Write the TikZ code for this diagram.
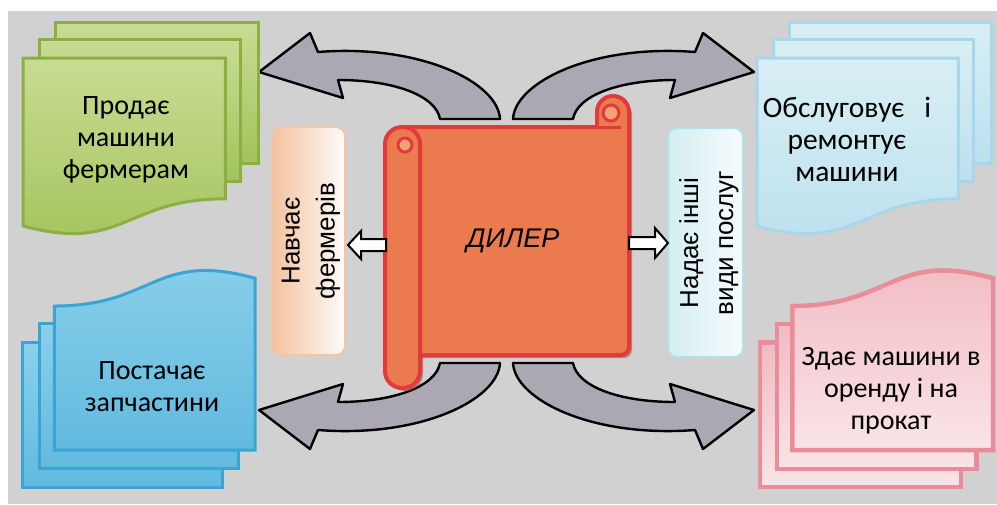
\documentclass[tikz,border=0pt]{standalone}
\usepackage{fontspec}
\setmainfont{Carlito}
\newfontfamily\arialf{Liberation Sans}

\definecolor{bggray}{HTML}{D1D1D1}
\definecolor{arrowgray}{HTML}{ABA7B3}
\definecolor{greenedge}{HTML}{8CAF42}
\definecolor{greentop}{HTML}{C8DC92}
\definecolor{greenbot}{HTML}{A3C35C}
\definecolor{blueedge}{HTML}{3AA4D4}
\definecolor{bluetop}{HTML}{8AD0EA}
\definecolor{bluebot}{HTML}{62BADF}
\definecolor{cyanedge}{HTML}{A8D6EA}
\definecolor{cyantop}{HTML}{D8EFF4}
\definecolor{cyanbot}{HTML}{BCE0EE}
\definecolor{pinkedge}{HTML}{E98D99}
\definecolor{pinktop}{HTML}{F2BAC2}
\definecolor{pinkbot}{HTML}{F9E4E7}
\definecolor{scrollfill}{HTML}{EB7B4F}
\definecolor{scrolledge}{HTML}{E03A3C}
\definecolor{scrollshadow}{HTML}{A8484A}
\definecolor{curlfill}{HTML}{F2A274}
\definecolor{peach}{HTML}{F3C29E}
\definecolor{peachedge}{HTML}{F1C6A8}
\definecolor{paleblue}{HTML}{D4EEF2}
\definecolor{paleblueedge}{HTML}{B4E0EA}

% one PowerPoint-style stack of three sheets in the unit square (y downwards)
\newcommand\sheetstack[1]{%
  \path[#1] (0.138,0) rectangle (1,0.666);
  \path[#1] (0.071,0.084) rectangle (0.926,0.752);
  \path[#1] (0,0.170) -- (0.861,0.170) -- (0.861,0.834)
    .. controls (0.430,0.834) and (0.430,1.090) .. (0,0.962) -- cycle;
}

\tikzset{
  bentarrow/.style={insert path={(259,72) -- (310,33) -- (318,52)
      .. controls (420,44) and (498,82) .. (500,119) -- (440,119)
      .. controls (436,96) and (395,80) .. (338,80) -- (343,98) -- cycle}},
  arrowshape/.style={draw=black, line width=2.4pt, line join=round, fill=arrowgray},
  greensheet/.style={draw=greenedge, line width=3pt, top color=greentop, bottom color=greenbot},
  bluesheet/.style={draw=blueedge, line width=3pt, top color=bluetop, bottom color=bluebot},
  cyansheet/.style={draw=cyanedge, line width=3pt, top color=cyantop, bottom color=cyanbot},
  pinksheet/.style={draw=pinkedge, line width=4.5pt, top color=pinktop, bottom color=pinkbot},
  scrollbody/.style={draw=scrolledge, line width=4pt, fill=scrollfill, line join=round},
  curl/.style={draw=scrolledge, line width=3pt, fill=curlfill},
  cornertext/.style={font=\fontsize{28}{32}\selectfont, align=center, inner sep=0pt, text=black},
  sidetext/.style={font=\arialf\fontsize{26}{35}\selectfont, align=center, inner sep=0pt, rotate=90, text=black},
  hollowarrow/.style={draw=black, line width=2pt, fill=white, line join=miter}
}

\begin{document}
\begin{tikzpicture}[x=1pt, y=-1pt]
\useasboundingbox (0,0) rectangle (997,504);
\fill[white] (0,0) rectangle (997,504);
\fill[bggray] (8,11) rectangle (997,504);

% four bent block arrows
\path[arrowshape, bentarrow];
\begin{scope}[shift={(1013,0)}, xscale=-1]
  \path[arrowshape, bentarrow];
\end{scope}
\begin{scope}[shift={(0,482)}, yscale=-1]
  \path[arrowshape, bentarrow];
\end{scope}
\begin{scope}[shift={(1013,482)}, xscale=-1, yscale=-1]
  \path[arrowshape, bentarrow];
\end{scope}

% sheet stacks
\begin{scope}[shift={(23,22)}, xscale=235, yscale=212]
  \sheetstack{greensheet}
\end{scope}
\begin{scope}[shift={(757,22)}, xscale=234, yscale=212]
  \sheetstack{cyansheet}
\end{scope}
\begin{scope}[shift={(255,487)}, xscale=-233, yscale=-217]
  \sheetstack{bluesheet}
\end{scope}
\begin{scope}[shift={(993,487)}, xscale=-233, yscale=-217]
  \sheetstack{pinksheet}
\end{scope}

\node[cornertext] (sell) at (126,140) {Продає\\машини\\фермерам};
\node[cornertext, font=\fontsize{29.5}{32}\selectfont] (service) at (847,139) {Обслуговує\ \ \ і\\ремонтує\\машини};
\node[cornertext] (parts) at (152,387) {Постачає\\запчастини};
\node[cornertext] (rent) at (891,391) {Здає машини в\\оренду і на\\прокат};

% side boxes
\node[draw=peachedge, line width=2pt, rounded corners=9pt, left color=peach, right color=white!94!peach,
      minimum width=73pt, minimum height=228pt, inner sep=0pt] (trainbox) at (308.5,241) {};
\node[sidetext] (train) at (311,241) {Навчає\\фермерів};
\node[draw=paleblueedge, line width=2pt, rounded corners=9pt, left color=paleblue, right color=white!80!paleblue,
      minimum width=75pt, minimum height=229pt, inner sep=0pt] (otherbox) at (705.5,242.5) {};
\node[sidetext] (other) at (709,243) {Надає інші\\види послуг};

% the scroll: soft shadow first, then sheet, left roll and curls
\fill[scrollshadow, opacity=0.55] (405,130) -- (600,130) -- (600,115)
  arc[start angle=180, end angle=360, radius=16] -- (632,350)
  arc[start angle=0, end angle=90, radius=8] -- (405,358) -- cycle;
\fill[scrollshadow, opacity=0.55, rounded corners=17pt] (388,130) rectangle (423,391);
\path[scrollbody] (402,127) -- (597,127) -- (597,112)
  arc[start angle=180, end angle=360, radius=16] -- (629,347)
  arc[start angle=0, end angle=90, radius=8] -- (402,355) -- cycle;
\draw[scrolledge, line width=3pt] (597,127) -- (621,127);
\path[curl] (611,113) circle[radius=8];
\path[scrollbody, rounded corners=17pt] (385,127) rectangle (420,388);
\path[curl] (405,145) circle[radius=7];
\node[font=\arialf\itshape\fontsize{27}{30}\selectfont, inner sep=0pt] (dealer) at (513,241) {ДИЛЕР};

% hollow arrows from the scroll to the side boxes
\path[hollowarrow] (386,239) -- (361,239) -- (361,231) -- (348,245)
  -- (361,259) -- (361,251) -- (386,251) -- cycle;
\path[hollowarrow] (629,237) -- (655,237) -- (655,228) -- (668,243)
  -- (655,258) -- (655,249) -- (629,249) -- cycle;
\end{tikzpicture}
\end{document}
